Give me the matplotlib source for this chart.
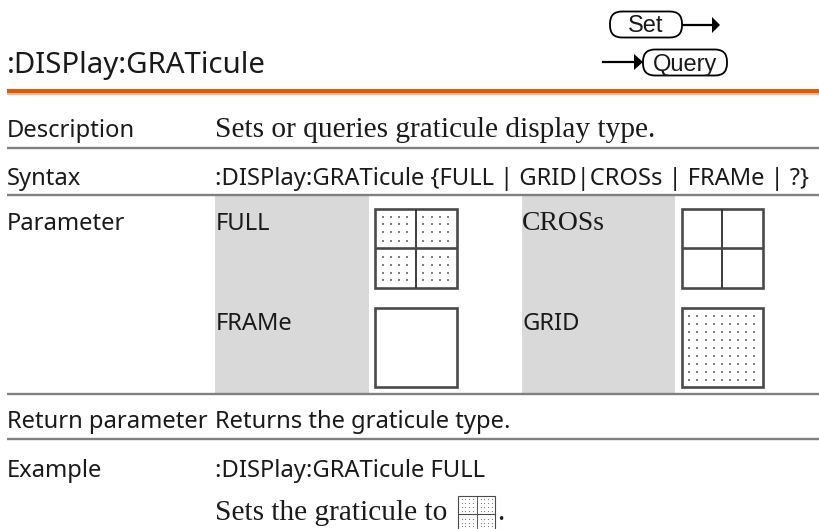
import matplotlib
matplotlib.use("Agg")
import matplotlib.pyplot as plt
from matplotlib.patches import FancyBboxPatch, Rectangle, Polygon

SANS = "Noto Sans"
SERIF = "Liberation Serif"
INK = "#1a1a1a"
RULE = "#808080"
GREY = "#d9d9d9"

title = ":DISPlay:GRATicule"
row_labels = ["Description", "Syntax", "Parameter", "Return parameter", "Example"]
row_base = [137, 185, 230, 428, 477]
description = "Sets or queries graticule display type."
syntax = ":DISPlay:GRATicule {FULL | GRID|CROSs | FRAMe | ?}"
returns = "Returns the graticule type."
example = ":DISPlay:GRATicule FULL"
example_note = "Sets the graticule to"
rule_y = [147.7, 194.5, 393.5, 439]

full_x = [382.7, 390.7, 399, 407.3, 423.3, 431.7, 439.7, 447.7]
full_y = [216.7, 224.3, 232.3, 240.7, 256.7, 265, 272.7, 280.3]
grid_x = [689.3, 697.4, 705.5, 713.6, 721.7, 729.8, 737.9, 746, 754]
grid_y = [315.7, 323.7, 331.7, 339.7, 347.7, 355.7, 363.7, 371.7, 379.7]

fig = plt.figure(figsize=(8.19, 5.29), dpi=100, facecolor="white")
ax = fig.add_axes([0, 0, 1, 1])
ax.set_xlim(0, 819)
ax.set_ylim(529, 0)
ax.axis("off")


def txt(x, y, s, size, font=SANS, **kw):
    ax.text(x, y, s, fontsize=size, family=font, color=kw.pop("color", INK),
            ha=kw.pop("ha", "left"), va=kw.pop("va", "baseline"), **kw)


def icon(x0, y0, x1, y1, cross, xs, ys, lw=1.9, ms=2.0):
    ax.add_patch(Rectangle((x0, y0), x1 - x0, y1 - y0, fc="white", ec="#4a4a4a", lw=lw, zorder=3))
    if cross:
        xm, ym = (x0 + x1) / 2, (y0 + y1) / 2
        ax.plot([xm, xm], [y0, y1], color="#333333", lw=lw * 0.7, zorder=4, solid_capstyle="butt")
        ax.plot([x0, x1], [ym, ym], color="#4a4a4a", lw=lw, zorder=4, solid_capstyle="butt")
    for yy in ys:
        ax.plot(xs, [yy] * len(xs), ls="none", marker="s", ms=ms, mfc="#808080", mew=0, zorder=4)


txt(7, 73, title, 21.2)
ax.add_patch(Rectangle((7, 89), 812, 4.2, fc="#ea5504", ec="none"))
ax.add_patch(Rectangle((7, 93.2), 812, 2.2, fc="#f8b98a", ec="none"))

for x0, x1, y0, y1, s in [(610, 682, 11.5, 37.5, "Set"), (643, 727, 49.5, 75.5, "Query")]:
    ax.add_patch(FancyBboxPatch((x0 + 12, y0 + 12), x1 - x0 - 24, y1 - y0 - 24,
                                boxstyle="round,pad=12,rounding_size=12",
                                fc="white", ec="black", lw=1.3, zorder=3))
    txt((x0 + x1) / 2, (y0 + y1) / 2 + 8, s, 17, font="Liberation Sans", ha="center", zorder=4)
ax.plot([682, 713], [25, 25], color="black", lw=1.6)
ax.add_patch(Polygon([(712, 17), (720, 25), (712, 33)], fc="black", ec="none"))
ax.plot([603, 636], [62, 62], color="black", lw=1.6)
ax.add_patch(Polygon([(634, 54), (643, 62), (634, 70)], fc="black", ec="none"))

for y in rule_y:
    ax.plot([7, 819], [y, y], color=RULE, lw=1.7, solid_capstyle="butt")
for x0, x1 in [(215, 369), (522, 675)]:
    ax.add_patch(Rectangle((x0, 196), x1 - x0, 196.7, fc=GREY, ec="none"))

for s, y in zip(row_labels, row_base):
    txt(7, y, s, 17.1)
txt(215, row_base[0], description, 21.2, font=SERIF)
txt(215, row_base[1], syntax, 17.1)
txt(215, row_base[3], returns, 17.1)
txt(215, row_base[4], example, 17.1)
txt(215, 520, example_note, 21.2, font=SERIF)
txt(497, 520, ".", 21.2, font=SERIF)

txt(216, 230, "FULL", 17.1)
txt(522, 230, "CROSs", 19.9, font=SERIF)
txt(216, 330, "FRAMe", 17.1)
txt(522, 330, "GRID", 17.1)

icon(375, 208.5, 456.5, 287.5, True, full_x, full_y)
icon(681.5, 208.5, 762.5, 287.5, True, [], [])
icon(375, 307.5, 456.5, 387, False, [], [])
icon(681.5, 307.5, 762.5, 387, False, grid_x, grid_y)

sx = 38 / 81.5
sy = 38 / 79
icon(458, 495.5, 495, 533, True,
     [458 + (v - 375) * sx for v in full_x],
     [495.5 + (v - 208.5) * sy for v in full_y], lw=0.8, ms=0.8)

fig.savefig("out.png", dpi=100)
